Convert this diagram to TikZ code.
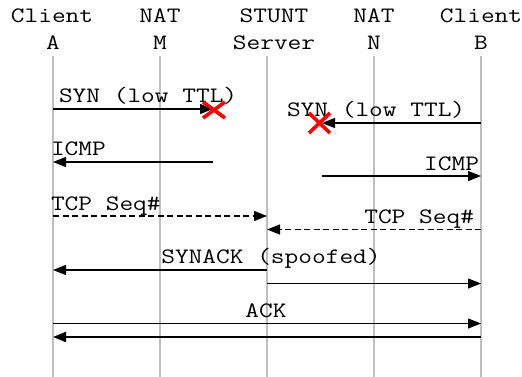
\documentclass[tikz,border=0pt]{standalone}
\usepackage{fontspec}
\setmonofont{Latin Modern Mono}[FakeStretch=1.21]
\usetikzlibrary{arrows.meta}
\begin{document}
\begin{tikzpicture}[x=1pt,y=-1pt,
  every node/.style={inner sep=0pt,outer sep=0pt,font=\ttfamily\fontsize{22}{27}\selectfont},
  head/.style={anchor=base},
  lifeline/.style={draw=black!25,line width=1.2pt},
  msg/.style={line width=1.3pt,-{Triangle[length=13pt,width=10pt]}},
  seq/.style={msg,dash pattern=on 6pt off 3.5pt},
  lbl/.style={anchor=base west},
  lblr/.style={anchor=base east},
  lost/.style={draw=red,line width=3.6pt,minimum width=0pt}]
\useasboundingbox (0,0) rectangle (522,377);

% participants
\node[head] (hA)  at (52,23)  {Client};
\node[head] (hA2) at (53,50)  {A};
\node[head] (hM)  at (160,23) {NAT};
\node[head] (hM2) at (160,50) {M};
\node[head] (hS)  at (274,23) {STUNT};
\node[head] (hS2) at (274,50) {Server};
\node[head] (hN)  at (374,23) {NAT};
\node[head] (hN2) at (374,50) {N};
\node[head] (hB)  at (481,23) {Client};
\node[head] (hB2) at (481,50) {B};

% lifelines
\coordinate (la) at (53,56);
\coordinate (lm) at (160,56);
\coordinate (ls) at (267,56);
\coordinate (ln) at (374,56);
\coordinate (lb) at (481,56);
\coordinate (bottom) at (0,377);
\foreach \p in {la,lm,ls,ln,lb} \draw[lifeline] (\p) -- (\p |- bottom);

% message rows
\coordinate (r1) at (0,109);
\coordinate (r2) at (0,123);
\coordinate (r3) at (0,162);
\coordinate (r4) at (0,176);
\coordinate (r5) at (0,216);
\coordinate (r6) at (0,229.5);
\coordinate (r7) at (0,270);
\coordinate (r8) at (0,283.5);
\coordinate (r9) at (0,323.5);
\coordinate (r10) at (0,337);

% dropped SYN packets
\coordinate (d1) at (213,0);
\coordinate (d2) at (322,0);

\draw[msg] (la |- r1) -- (d1 |- r1);
\node[lbl] (t1) at (59,103) {SYN (low TTL)};
\draw[msg] (lb |- r2) -- (d2 |- r2);
\node[lbl] (t2) at (287,117) {SYN (low TTL)};

\draw[lost] (203,102) -- (225,118) (203,118) -- (225,102);
\draw[lost] (309,113) -- (330,133) (309,133) -- (330,113);

% ICMP replies
\draw[msg] (d1 |- r3) -- (la |- r3);
\node[lbl] (t3) at (51,156) {ICMP};
\draw[msg] (d2 |- r4) -- (lb |- r4);
\node[lblr] (t4) at (479,170) {ICMP};

% sequence number reports
\draw[seq] (la |- r5) -- (ls |- r5);
\node[lbl] (t5) at (51,210) {TCP Seq\#};
\draw[seq] (lb |- r6) -- (ls |- r6);
\node[lblr] (t6) at (474,223) {TCP Seq\#};

% spoofed SYNACK
\draw[msg] (ls |- r7) -- (la |- r7);
\draw[msg] (ls |- r8) -- (lb |- r8);
\node[anchor=base] (t7) at (271,263) {SYNACK (spoofed)};

% ACK exchange
\draw[msg] (la |- r9) -- (lb |- r9);
\node[anchor=base] (t9) at (266,317) {ACK};
\draw[msg,line width=2pt] (lb |- r10) -- (la |- r10);
\end{tikzpicture}
\end{document}
